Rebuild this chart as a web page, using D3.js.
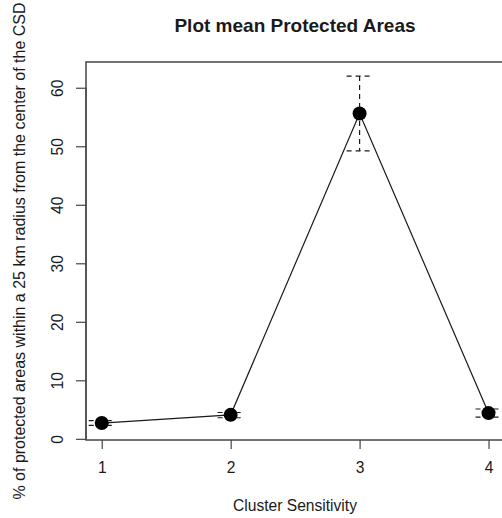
<!DOCTYPE html>
<html>
<head>
<meta charset="utf-8">
<script src="https://cdn.jsdelivr.net/npm/d3@7"></script>
<style>
  html, body { margin: 0; padding: 0; background: #fff; }
  svg { display: block; font-family: "Liberation Sans", Arial, sans-serif; }
</style>
</head>
<body>
<svg id="chart" width="502" height="518"></svg>
<script>
// Cluster sensitivity levels and mean % protected area with error bounds
const clusters = [1, 2, 3, 4];
const meanValues = [2.7, 4.1, 55.6, 4.4];
const upperValues = [3.1, 4.5, 62.0, 5.1];
const lowerValues = [2.3, 3.6, 49.2, 3.7];
const yTicks = [0, 10, 20, 30, 40, 50, 60];
const xTicks = [1, 2, 3, 4];

const svg = d3.select("#chart");
const ink = "#1a1a1a";
const frame = "#444";
const labelSize = "15.6px";

const x = d3.scaleLinear().domain([0.878, 4.12]).range([86, 504]);
const y = d3.scaleLinear().domain([-0.2, 64.4]).range([440, 62]);

// Plot frame
svg.append("rect")
  .attr("x", x(0.878)).attr("y", y(64.4))
  .attr("width", x(4.12) - x(0.878)).attr("height", y(-0.2) - y(64.4))
  .attr("fill", "none").attr("stroke", frame).attr("stroke-width", 1.5);

// Y axis
const yAxis = d3.axisLeft(y).tickValues(yTicks).tickSize(10).tickPadding(0).tickFormat(d3.format("d"));
const gy = svg.append("g").attr("transform", `translate(${x(0.878)},0)`).call(yAxis);
gy.select(".domain").remove();
gy.append("path").attr("d", `M0,${y(0)}V${y(60)}`).attr("stroke", frame).attr("stroke-width", 1.2);
gy.selectAll(".tick line").attr("stroke", frame).attr("stroke-width", 1.2);
gy.selectAll(".tick text")
  .attr("x", null).attr("dy", null)
  .attr("transform", "translate(-23,0) rotate(-90)")
  .attr("text-anchor", "middle")
  .attr("fill", ink)
  .attr("font-size", labelSize)
  .attr("font-family", "Liberation Sans, Arial, sans-serif");

// X axis
const xAxis = d3.axisBottom(x).tickValues(xTicks).tickSize(9).tickPadding(13).tickFormat(d3.format("d"));
const gx = svg.append("g").attr("transform", `translate(0,${y(-0.2)})`).call(xAxis);
gx.select(".domain").remove();
gx.selectAll(".tick line").attr("stroke", frame).attr("stroke-width", 1.2);
gx.selectAll(".tick text")
  .attr("fill", ink)
  .attr("font-size", labelSize)
  .attr("font-family", "Liberation Sans, Arial, sans-serif");

// Error bars (dashed)
const bars = svg.append("g").attr("stroke", ink).attr("stroke-width", 1.2).attr("stroke-dasharray", "5,4").attr("fill", "none");
clusters.forEach((c, i) => {
  bars.append("line").attr("x1", x(c)).attr("x2", x(c)).attr("y1", y(upperValues[i])).attr("y2", y(lowerValues[i]));
  bars.append("line").attr("x1", x(c) - 13).attr("x2", x(c) + 13).attr("y1", y(upperValues[i])).attr("y2", y(upperValues[i]));
  bars.append("line").attr("x1", x(c) - 13).attr("x2", x(c) + 13).attr("y1", y(lowerValues[i])).attr("y2", y(lowerValues[i]));
});

// Connecting line
const line = d3.line().x((d, i) => x(clusters[i])).y(d => y(d));
svg.append("path").datum(meanValues)
  .attr("d", line).attr("fill", "none").attr("stroke", ink).attr("stroke-width", 1.2);

// Mean points
svg.append("g").selectAll("circle").data(meanValues).join("circle")
  .attr("cx", (d, i) => x(clusters[i])).attr("cy", d => y(d))
  .attr("r", 7).attr("fill", "#000");

// Title
svg.append("text")
  .attr("x", (x(0.878) + x(4.12)) / 2).attr("y", 32)
  .attr("text-anchor", "middle").attr("fill", ink)
  .style("font-size", "19px").style("font-weight", "bold")
  .text("Plot mean Protected Areas");

// Axis titles
svg.append("text")
  .attr("x", (x(0.878) + x(4.12)) / 2).attr("y", 511)
  .attr("text-anchor", "middle").attr("fill", ink)
  .style("font-size", labelSize)
  .text("Cluster Sensitivity");

svg.append("text")
  .attr("transform", `translate(25,${(y(-0.2) + y(64.4)) / 2}) rotate(-90)`)
  .attr("text-anchor", "middle").attr("fill", ink)
  .style("font-size", "16px")
  .text("% of protected areas within a 25 km radius from the center of the CSD");
</script>
</body>
</html>
